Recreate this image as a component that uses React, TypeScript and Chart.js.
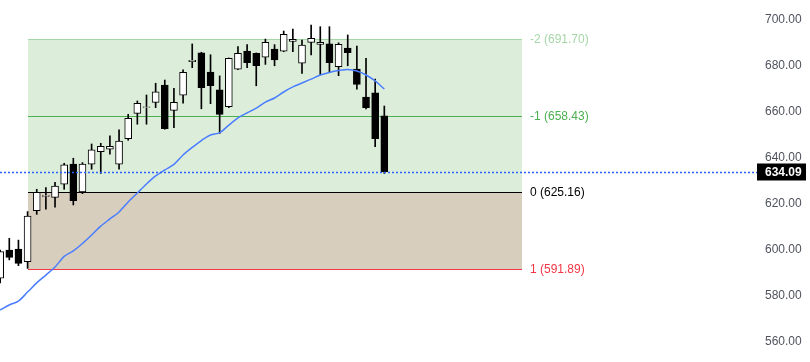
import React, { useEffect, useRef } from 'react';
import { Chart, registerables } from 'chart.js';

Chart.register(...registerables);

// ---- data ----
const opens = [587.7, 600.0, 600.4, 594.9, 617.1, 623.3, 622.9, 628.6, 637.4, 625.3, 637.3, 642.7, 643.8, 637.3, 648.4, 659.4, 662.0, 664.2, 671.7, 660.7, 667.3, 681.9, 685.7, 677.4, 669.6, 662.3, 678.6, 686.5, 685.5, 683.8, 687.4, 686.4, 690.7, 681.2, 690.3, 689.4, 689.6, 679.7, 687.8, 678.7, 666.5, 668.3, 658.3];
const highs = [600.0, 605.1, 604.3, 616.7, 626.4, 627.1, 629.4, 637.7, 639.9, 638.0, 646.1, 646.4, 649.6, 652.2, 659.0, 664.8, 667.4, 672.5, 673.9, 670.3, 678.3, 689.6, 686.0, 684.9, 675.7, 683.5, 688.4, 689.3, 685.7, 691.7, 689.3, 695.2, 696.1, 691.3, 697.8, 697.1, 697.1, 690.1, 693.5, 688.7, 683.3, 674.3, 662.6];
const lows = [585.7, 595.7, 593.2, 592.0, 615.5, 617.8, 618.6, 626.4, 619.6, 624.5, 635.1, 633.3, 641.7, 635.1, 647.7, 654.7, 654.7, 661.9, 652.5, 653.2, 663.8, 679.3, 661.4, 663.6, 650.7, 661.9, 678.4, 679.3, 671.4, 680.7, 680.1, 686.2, 686.2, 676.8, 684.8, 676.1, 677.5, 675.8, 680.1, 669.9, 661.3, 644.9, 633.3];
const closes = [599.3, 596.8, 594.2, 614.8, 625.1, 623.7, 627.8, 637.0, 621.4, 637.4, 643.5, 645.1, 645.1, 647.4, 657.3, 663.8, 662.2, 668.8, 652.7, 664.2, 677.3, 682.5, 670.6, 671.4, 659.0, 683.3, 685.5, 681.4, 680.1, 690.3, 682.7, 693.8, 691.6, 689.1, 692.0, 690.3, 681.4, 689.4, 685.8, 672.0, 661.9, 648.4, 634.09];
const maValues = [573.9, 576.1, 577.8, 581.7, 585.7, 589.1, 592.6, 597.2, 599.6, 602.8, 606.5, 610.4, 613.5, 616.5, 620.9, 624.8, 628.7, 632.2, 634.8, 637.2, 641.3, 644.6, 647.6, 650.0, 651.0, 654.3, 657.4, 659.6, 661.7, 664.3, 666.1, 668.7, 670.9, 672.6, 674.3, 676.1, 677.2, 678.0, 678.5, 677.8, 676.1, 673.5, 670.0];

const fibLevels = [691.70, 658.43, 625.16, 591.89];
const fibNames = ['-2', '-1', '0', '1'];
const fibStartIndex = 3;
const fibEndIndex = 57;
const lastPrice = 634.09;

const yMin = 551.3;
const yMax = 708.7;
const xMin = -0.016;
const xMax = 81.98;

// ---- styles ----
const FONT = '"Liberation Sans", Arial, sans-serif';
const fibLineColors = ['#a5d6a7', '#4caf50', '#000000', '#f23645'];
const fibZoneColors = ['rgb(220,238,218)', 'rgb(220,238,218)', 'rgb(216,206,190)'];

const fibPlugin = {
  id: 'fibPlugin',
  beforeDatasetsDraw(chart: any) {
    const { ctx, scales } = chart;
    const x = scales.x;
    const y = scales.y;
    const x0 = Math.round(x.getPixelForValue(fibStartIndex));
    const x1 = Math.round(x.getPixelForValue(fibEndIndex));
    const ys = fibLevels.map((v) => Math.round(y.getPixelForValue(v)));
    ctx.save();
    for (let i = 0; i < ys.length - 1; i++) {
      ctx.fillStyle = fibZoneColors[i];
      ctx.fillRect(x0, ys[i], x1 - x0, ys[i + 1] - ys[i]);
    }
    ctx.lineWidth = 1;
    ys.forEach((py, i) => {
      ctx.strokeStyle = fibLineColors[i];
      ctx.beginPath();
      ctx.moveTo(x0, py + 0.5);
      ctx.lineTo(x1, py + 0.5);
      ctx.stroke();
    });
    ctx.restore();
  },
  afterDraw(chart: any) {
    const { ctx, scales, chartArea } = chart;
    const x = scales.x;
    const y = scales.y;
    const x1 = Math.round(x.getPixelForValue(fibEndIndex));
    ctx.save();
    ctx.font = `12px ${FONT}`;
    ctx.textBaseline = 'middle';
    ctx.textAlign = 'left';
    fibLevels.forEach((v, i) => {
      ctx.fillStyle = fibLineColors[i];
      ctx.fillText(`${fibNames[i]} (${v.toFixed(2)})`, x1 + 8, y.getPixelForValue(v) + 1);
    });
    // last price line and label
    const py = Math.round(y.getPixelForValue(lastPrice)) + 0.5;
    const boxLeft = chartArea.right + 7;
    ctx.strokeStyle = '#2962ff';
    ctx.lineWidth = 1.5;
    ctx.setLineDash([2, 2]);
    ctx.beginPath();
    ctx.moveTo(chartArea.left, py);
    ctx.lineTo(boxLeft, py);
    ctx.stroke();
    ctx.setLineDash([]);
    ctx.fillStyle = '#000';
    ctx.fillRect(boxLeft, py - 9, 49, 17);
    ctx.fillStyle = '#fff';
    ctx.font = `bold 12px ${FONT}`;
    ctx.fillText(lastPrice.toFixed(2), chartArea.right + 15, py);
    ctx.restore();
  },
};

export default function App() {
  const ref = useRef<HTMLCanvasElement | null>(null);
  useEffect(() => {
    if (!ref.current) return;
    const idx = opens.map((_, i) => i);
    const chart = new Chart(ref.current, {
      type: 'bar',
      data: {
        datasets: [
          {
            type: 'line',
            data: idx.map((i) => ({ x: i, y: maValues[i] })),
            borderColor: '#4a7dff',
            borderWidth: 1.5,
            pointRadius: 0,
            tension: 0.3,
            order: 1,
          } as any,
          {
            type: 'bar',
            data: idx.map((i) => ({ x: i, y: [opens[i], closes[i]] })),
            backgroundColor: idx.map((i) => (closes[i] >= opens[i] ? '#ffffff' : '#000000')),
            borderColor: '#000000',
            borderWidth: 1,
            borderSkipped: false,
            barThickness: 7,
            grouped: false,
            order: 2,
          } as any,
          {
            type: 'bar',
            data: idx.map((i) => ({ x: i, y: [lows[i], highs[i]] })),
            backgroundColor: '#000000',
            borderWidth: 0,
            barThickness: 1,
            grouped: false,
            order: 3,
          } as any,
        ],
      },
      options: {
        animation: false,
        responsive: false,
        layout: { padding: 0, autoPadding: false },
        plugins: { legend: { display: false }, tooltip: { enabled: false } },
        scales: {
          x: { type: 'linear', min: xMin, max: xMax, display: false, offset: false },
          y: {
            position: 'right',
            min: yMin,
            max: yMax,
            grid: { display: false, drawTicks: false },
            border: { display: false },
            ticks: {
              stepSize: 20,
              includeBounds: false,
              padding: 15,
              color: '#50535e',
              font: { family: FONT, size: 12 },
              callback: (v: any) => Number(v).toFixed(2),
            },
            afterFit: (s: any) => {
              s.width = 60;
              s.paddingTop = 0;
              s.paddingBottom = 0;
            },
          },
        },
      } as any,
      plugins: [fibPlugin],
    });
    return () => chart.destroy();
  }, []);
  return (
    <div style={{ position: 'absolute', left: 0, top: 0, width: 810, height: 362, background: '#fff' }}>
      <canvas ref={ref} width={810} height={362} />
    </div>
  );
}
